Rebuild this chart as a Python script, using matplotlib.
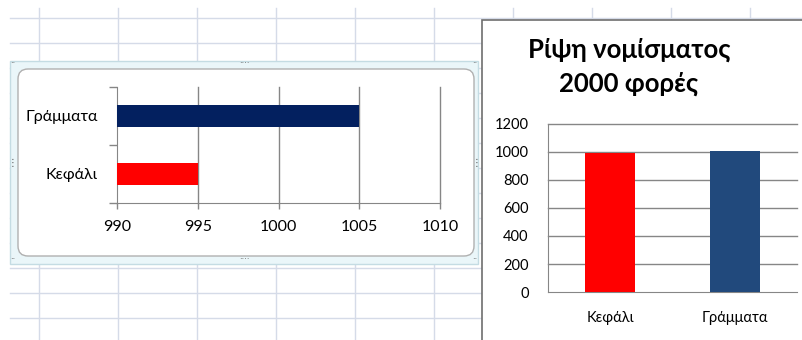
import matplotlib
matplotlib.use("Agg")
import matplotlib.pyplot as plt
from matplotlib.patches import Rectangle, FancyBboxPatch

# ---- data ----
categories = ["Κεφάλι", "Γράμματα"]
counts = [995, 1005]
bar_colors_left = ["#FF0000", "#03205F"]
bar_colors_right = ["#FF0000", "#21497C"]
title = "Ρίψη νομίσματος\n2000 φορές"
left_xticks = [990, 995, 1000, 1005, 1010]
right_yticks = [0, 200, 400, 600, 800, 1000, 1200]

W, H = 802, 340
plt.rcParams['font.family'] = ['Lato', 'DejaVu Sans']
fig = plt.figure(figsize=(W / 100, H / 100), dpi=100)

def frac(x0, y0, x1, y1):
    return [x0 / W, 1 - y1 / H, (x1 - x0) / W, (y1 - y0) / H]

# ---- background spreadsheet ----
bg = fig.add_axes([0, 0, 1, 1], zorder=0)
bg.set_xlim(0, W)
bg.set_ylim(H, 0)
bg.axis('off')
grid_c = "#D5DBE8"
for x in range(39, W, 79):
    bg.plot([x, x], [8, H], color=grid_c, lw=1, zorder=1)
for y in range(18, H, 25):
    bg.plot([10, W], [y, y], color=grid_c, lw=1, zorder=1)

# left chart frame (selected)
bg.add_patch(Rectangle((10, 61), 468, 203, facecolor="#EAF6F9", edgecolor="#C4DCE3", lw=1, zorder=3))
bg.add_patch(FancyBboxPatch((18, 69), 456, 187, boxstyle="round,pad=0,rounding_size=10",
                            facecolor="white", edgecolor="#B0B0B0", lw=1, zorder=4))
for (hx, hy) in [(244, 64), (244, 260)]:
    bg.text(hx, hy, "····", ha='center', va='center', fontsize=6, color="#555555",
            family='DejaVu Sans', zorder=5)
for (hx, hy) in [(13, 64), (475, 64), (13, 260), (475, 260)]:
    bg.text(hx, hy, "··", ha='center', va='center', fontsize=6, color="#555555",
            family='DejaVu Sans', zorder=5)
for (hx, hy) in [(13, 163), (476, 163)]:
    bg.text(hx, hy, "⋮", ha='center', va='center', fontsize=7, color="#555555",
            family='DejaVu Sans', zorder=5)

# right chart panel
bg.add_patch(Rectangle((482, 20), 330, 330, facecolor="white", edgecolor="#6E6E6E", lw=1.2, zorder=3))

# ---- left chart: horizontal bars from 990 ----
axl = fig.add_axes(frac(117, 87, 440, 203), zorder=2)
axl.patch.set_alpha(0)
ypos = list(range(len(categories)))
axl.barh(ypos, [c - left_xticks[0] for c in counts], left=left_xticks[0],
         height=0.38, color=bar_colors_left, zorder=3)
axl.set_xlim(left_xticks[0], left_xticks[-1])
axl.set_ylim(-0.5, 1.5)
axl.set_xticks(left_xticks)
axl.set_xticklabels([str(v) for v in left_xticks], fontsize=11.5)
axl.set_yticks(ypos)
axl.set_yticklabels(categories, fontsize=11.5)
axl.set_yticks([-0.5, 0.5, 1.5], minor=True)
axl.tick_params(axis='y', which='major', length=0, pad=14)
axl.tick_params(axis='y', which='minor', length=6, color="#868686", width=1)
axl.tick_params(axis='x', length=4, color="#868686", width=1, pad=8)
for v in left_xticks[1:]:
    axl.axvline(v, color="#868686", lw=1, zorder=1, clip_on=False)
for s in ['top', 'right']:
    axl.spines[s].set_visible(False)
for s in ['left', 'bottom']:
    axl.spines[s].set_color("#868686")

# ---- right chart: vertical bars ----
axr = fig.add_axes(frac(548, 124, 797, 292), zorder=2)
axr.patch.set_alpha(0)
axr.bar(ypos, counts, width=0.4, color=bar_colors_right, zorder=3)
axr.set_xlim(-0.5, 1.5)
axr.set_ylim(0, 1200)
axr.set_yticks(right_yticks)
axr.set_yticklabels([str(v) for v in right_yticks], fontsize=10.5)
axr.set_xticks(ypos)
axr.set_xticklabels(categories, fontsize=10.5)
axr.tick_params(axis='y', length=0, pad=14)
axr.tick_params(axis='x', length=0, pad=14)
for v in right_yticks[1:]:
    axr.axhline(v, color="#868686", lw=1, zorder=1, clip_on=False)
for s in ['top', 'right']:
    axr.spines[s].set_visible(False)
for s in ['left', 'bottom']:
    axr.spines[s].set_color("#868686")
fig.text(629 / W, 1 - 67 / H, title, ha='center', va='center', fontsize=18.5,
         fontweight='bold', linespacing=1.45)

fig.savefig("out.png", dpi=100)
